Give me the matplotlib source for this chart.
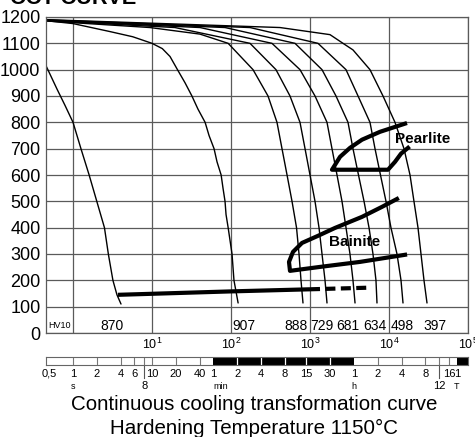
import matplotlib
matplotlib.use('Agg')
import matplotlib.pyplot as plt
from matplotlib.transforms import blended_transform_factory
from matplotlib.ticker import NullLocator, FixedLocator
from matplotlib.lines import Line2D

W, H = 475, 437
NARROW = ['Liberation Sans Narrow', 'Liberation Sans', 'DejaVu Sans']
REG = ['Liberation Sans', 'DejaVu Sans']

# ---------------- data (time in s, temperature in °C) ----------------
c870_t = [0.455, 0.63, 0.79, 1.0, 1.26, 1.6, 2.0, 2.5, 2.8, 3.2, 3.6, 4.05]
c870_T = [1015, 925, 865, 800, 700, 600, 500, 400, 300, 200, 145, 110]

c907_t = [0.455, 1, 2.9, 5.7, 10, 13.5, 16.9, 21, 26.2, 32, 38.2, 47, 52.7, 61, 66.5, 75,
          79.2, 84, 86.5, 92, 103, 109, 123]
c907_T = [1186, 1175, 1145, 1125, 1100, 1080, 1050, 1000, 950, 900, 850, 800, 750, 700, 650,
          600, 550, 500, 450, 400, 300, 200, 114]

c888_t = [0.455, 9.4, 40.5, 92, 190, 294, 382, 442, 512, 592, 675, 726, 769, 815]
c888_T = [1185, 1160, 1135, 1100, 1000, 900, 800, 700, 600, 500, 400, 300, 200, 114]

c729_t = [0.455, 19.5, 174, 371, 558, 747, 865, 1000, 1157, 1300, 1419, 1549, 1641]
c729_T = [1186, 1160, 1100, 1000, 900, 800, 700, 600, 500, 400, 300, 200, 114]

c681_t = [0.455, 40.5, 330, 747, 1157, 1641, 1898, 2197, 2541, 2856, 3207, 3500, 3715]
c681_T = [1187, 1160, 1100, 1000, 900, 800, 700, 600, 500, 400, 300, 200, 114]

c634_t = [0.455, 84, 646, 1419, 2133, 3027, 3500, 4110, 4830, 5585, 6270, 6840, 7046]
c634_T = [1188, 1160, 1100, 1000, 900, 800, 700, 600, 500, 400, 300, 200, 114]

c498_t = [0.455, 174, 1262, 2856, 4055, 5745, 6650, 7800, 9160, 10590, 12620, 14190, 15040]
c498_T = [1189, 1160, 1100, 1000, 900, 800, 700, 600, 500, 400, 300, 200, 114]

c397_t = [0.455, 417, 1791, 2617, 3500, 5745, 8395, 11910, 15480, 18450, 20700, 23280, 25410,
          27730, 30270]
c397_T = [1190, 1160, 1133, 1100, 1075, 1000, 900, 800, 700, 600, 500, 400, 300, 200, 114]

cooling_t = [c870_t, c907_t, c888_t, c729_t, c681_t, c634_t, c498_t, c397_t]
cooling_T = [c870_T, c907_T, c888_T, c729_T, c681_T, c634_T, c498_T, c397_T]

ms_t = [3.7, 100, 1000]
ms_T = [145, 158, 166]
ms_dash_t = [1000, 5400]
ms_dash_T = [166, 172]

pearlite_t = [17400, 14190, 11910, 9710, 1898, 2399, 3207, 4550, 7690, 15950]
pearlite_T = [703, 681, 650, 620, 620, 669, 703, 734, 764, 795]

bainite_t = [12620, 8150, 4550, 2072, 1262, 792, 609, 542, 558, 1339, 4297, 15950]
bainite_T = [509, 479, 441, 399, 369, 342, 308, 270, 236, 251, 270, 297]

hardness = ['870', '907', '888', '729', '681', '634', '498', '397']
hardness_t = [3.12, 146, 665, 1419, 3027, 6650, 14620, 38200]

y_ticks = list(range(0, 1201, 100))
decades = [10, 100, 1000, 10000, 100000]
decade_exp = ['1', '2', '3', '4', '5']

# time bar
bar_black = [(60, 3600), (72000, 100000)]
bar_grey_ticks = [1, 2, 4, 6, 8, 10, 20, 40, 7200, 14400, 28800, 43200, 57600]
bar_white_ticks = [120, 240, 480, 900, 1800]
bar_lab_t = [0.5, 1, 2, 4, 6, 10, 20, 40, 60, 120, 240, 480, 900, 1800, 3600,
             7200, 14400, 28800, 57600, 72000]
bar_lab = ['0,5', '1', '2', '4', '6', '10', '20', '40', '1', '2', '4', '8', '15', '30', '1',
           '2', '4', '8', '16', '1']
low_lab_t = [1, 8, 60, 3600, 43200, 72000]
low_lab = ['s', '8', 'min', 'h', '12', 'T']
sep_t = [8, 43200]

XMIN, XMAX = 0.455, 1e5

# ---------------- figure ----------------
fig = plt.figure(figsize=(W / 100, H / 100), dpi=100)
fx = lambda px: px / W
fy = lambda py: 1 - py / H

ax = fig.add_axes([fx(46), fy(333), fx(468) - fx(46), fy(17) - fy(333)])
ax.set_xscale('log')
ax.set_xlim(XMIN, XMAX)
ax.set_ylim(0, 1200)
ax.xaxis.set_major_locator(FixedLocator([1, 10, 100, 1000, 10000, 100000]))
ax.xaxis.set_minor_locator(NullLocator())
ax.set_xticklabels([])
ax.set_yticks(y_ticks)
ax.set_yticklabels([str(v) for v in y_ticks])
for lab in ax.get_yticklabels():
    lab.set_fontfamily(NARROW)
    lab.set_fontsize(13)
ax.tick_params(axis='both', length=0, pad=4)
ax.tick_params(axis='x', pad=0)
ax.grid(True, color='#5a5a5a', lw=0.9)
ax.set_axisbelow(True)
for s in ax.spines.values():
    s.set_color('#5a5a5a')
    s.set_linewidth(0.9)

for t, T in zip(cooling_t, cooling_T):
    ax.plot(t, T, color='black', lw=1.0, solid_capstyle='round', solid_joinstyle='round')

ax.plot(ms_t, ms_T, color='black', lw=3.0, solid_capstyle='butt')
ax.plot(ms_dash_t, ms_dash_T, color='black', lw=3.0, dashes=(2.4, 1.3))
ax.plot(pearlite_t, pearlite_T, color='black', lw=3.0, solid_joinstyle='round')
ax.plot(bainite_t, bainite_T, color='black', lw=3.0, solid_joinstyle='round')

ax.text(26930, 738, 'Pearlite', fontsize=11, fontweight='bold', family=NARROW,
        ha='center', va='center')
ax.text(3715, 346, 'Bainite', fontsize=11, fontweight='bold', family=NARROW,
        ha='center', va='center')

trf = blended_transform_factory(ax.transData, fig.transFigure)
for t, lab in zip(hardness_t, hardness):
    ax.text(t, fy(330), lab, transform=trf, fontsize=10, family=NARROW,
            ha='center', va='baseline')
ax.text(0.665, fy(328), 'HV10', transform=trf, fontsize=6.5, family=NARROW,
        ha='center', va='baseline')

for d, e in zip(decades, decade_exp):
    ax.text(d, fy(349), '10' + r'$^{\mathregular{' + e + '}}$', transform=trf,
            fontsize=9, family=REG, ha='center', va='baseline', clip_on=False)

# ---------------- time bar ----------------
bax = fig.add_axes([fx(46), fy(365), fx(468) - fx(46), fy(357) - fy(365)])
bax.set_xscale('log')
bax.set_xlim(XMIN, XMAX)
bax.set_ylim(0, 1)
bax.set_xticks([])
bax.set_yticks([])
bax.xaxis.set_minor_locator(NullLocator())
for a, b in bar_black:
    bax.axvspan(a, b, color='black', lw=0)
bax.vlines(bar_grey_ticks, 0, 1, color='#777777', lw=0.8)
bax.vlines(bar_white_ticks, 0, 1, color='white', lw=0.9)
for s in bax.spines.values():
    s.set_color('#666666')
    s.set_linewidth(0.8)

trb = blended_transform_factory(bax.transData, fig.transFigure)
for t, lab in zip(bar_lab_t, bar_lab):
    txt = fig.text(0, 0, lab, transform=trb, fontsize=8, family=REG)
    txt.set_position((t, fy(377)))
    txt.set_ha('center')
    txt.set_va('baseline')
for t, lab in zip(low_lab_t, low_lab):
    small = lab in ('s', 'min', 'h', 'T')
    txt = fig.text(0, 0, lab, transform=trb, fontsize=6.5 if small else 8, family=REG)
    txt.set_position((t, fy(389)))
    txt.set_ha('left' if lab == 'min' else 'center')
    txt.set_va('baseline')
for t in sep_t:
    fig.add_artist(Line2D([t, t], [fy(366), fy(378)], transform=trb, color='#555555', lw=0.8))

# ---------------- titles ----------------
fig.text(fx(254), fy(410), 'Continuous cooling transformation curve', fontsize=14.8,
         family=REG, ha='center', va='baseline')
fig.text(fx(254), fy(434), 'Hardening Temperature 1150°C', fontsize=14.8,
         family=REG, ha='center', va='baseline')
fig.text(fx(10), fy(4), 'CCT CURVE', fontsize=15.7, fontweight='bold', family=REG,
         ha='left', va='baseline')

fig.savefig('out.png', dpi=100)
